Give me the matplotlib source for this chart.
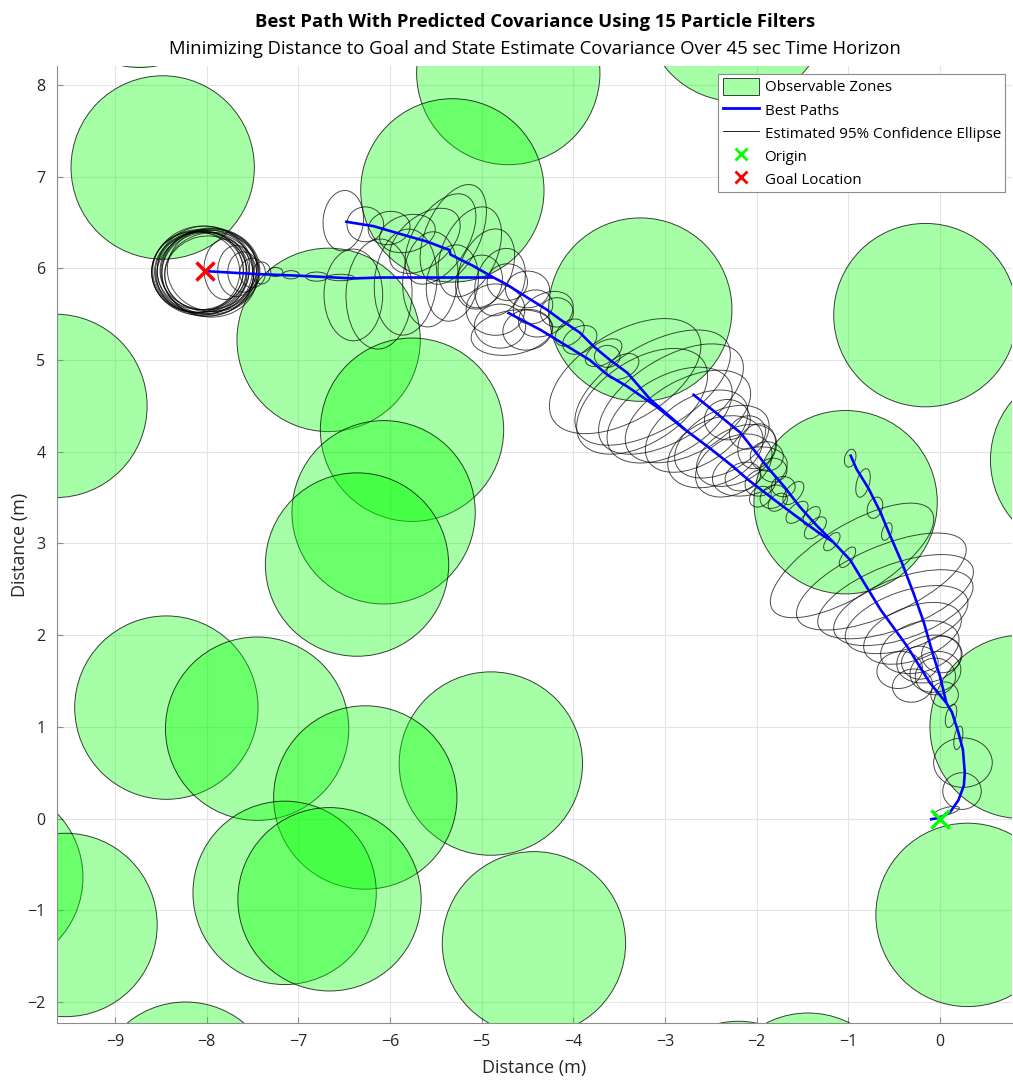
import matplotlib
matplotlib.use("Agg")
import matplotlib.pyplot as plt
from matplotlib.patches import Circle, Ellipse, Patch
from matplotlib.lines import Line2D

plt.rcParams['font.family'] = ['Open Sans', 'DejaVu Sans']

# observable zones: centres (m), all radius 1 m
zone_x = [-8.73, -8.48, -4.71, -5.32, -2.22, -3.27, -0.16, 1.55, -9.65, -6.67,
          -5.76, -6.07, -6.36, -1.03, 0.89, -8.44, -7.45, -4.90, -6.27, -7.15,
          -6.66, -10.35, -9.54, -4.43, 0.30, -8.23, -1.44, -2.20]
zone_y = [9.19, 7.10, 8.13, 6.85, 8.82, 5.55, 5.49, 3.91, 4.50, 5.22,
          4.24, 3.34, 2.77, 3.45, 1.00, 1.21, 0.98, 0.60, 0.23, -0.81,
          -0.88, -0.64, -1.16, -1.36, -1.05, -3.00, -3.12, -3.21]
zone_r = 1.0

origin = (0.0, 0.0)
goal = (-8.02, 5.97)

# best path segments (x, y)
seg_trunk = [(-0.11, -0.01), (0.0, 0.01), (0.11, 0.07), (0.20, 0.20), (0.26, 0.36),
             (0.27, 0.50), (0.25, 0.75), (0.20, 0.94), (0.13, 1.16), (0.07, 1.26)]
seg_a = [(0.07, 1.26), (0.0, 1.55), (-0.08, 1.80), (-0.18, 2.15), (-0.29, 2.46),
         (-0.42, 2.80), (-0.55, 3.10), (-0.65, 3.34), (-0.78, 3.60), (-0.91, 3.81), (-0.98, 3.97)]
seg_b = [(0.07, 1.26), (-0.11, 1.48), (-0.36, 1.88), (-0.65, 2.28), (-0.98, 2.82), (-1.17, 3.02)]
seg_c = [(-1.17, 3.02), (-1.35, 3.20), (-1.53, 3.40), (-1.70, 3.62), (-1.89, 3.84),
         (-2.03, 4.02), (-2.18, 4.21), (-2.45, 4.43), (-2.70, 4.63)]
seg_d = [(-1.17, 3.02), (-1.30, 3.10), (-1.56, 3.29), (-1.80, 3.47), (-2.10, 3.70),
         (-2.26, 3.84), (-2.50, 4.03), (-2.78, 4.24)]
seg_e = [(-2.78, 4.24), (-3.09, 4.49), (-3.41, 4.71), (-3.63, 4.84), (-3.82, 5.00),
         (-4.00, 5.11), (-4.36, 5.33), (-4.72, 5.52)]
seg_f = [(-2.78, 4.24), (-3.16, 4.57), (-3.41, 4.86), (-3.60, 5.00), (-3.78, 5.15),
         (-3.93, 5.30), (-4.14, 5.44), (-4.29, 5.55), (-4.50, 5.68), (-4.72, 5.82), (-4.87, 5.90)]
seg_g = [(-4.87, 5.90), (-5.50, 5.90), (-6.10, 5.90), (-6.40, 5.89), (-7.00, 5.92),
         (-7.50, 5.94), (-8.02, 5.97)]
seg_h = [(-4.87, 5.90), (-5.10, 6.03), (-5.34, 6.15), (-5.35, 6.20), (-5.38, 6.21),
         (-5.59, 6.29), (-5.87, 6.37), (-6.18, 6.46), (-6.49, 6.51)]
path_segments = [seg_trunk, seg_a, seg_b, seg_c, seg_d, seg_e, seg_f, seg_g, seg_h]

# 95% confidence ellipses: (cx, cy, semi-major, semi-minor, angle deg)
ell_goal = [(-8.10, 5.97, 0.50, 0.45, 5), (-8.08, 5.95, 0.52, 0.46, -5),
            (-8.06, 5.99, 0.53, 0.47, 10), (-8.05, 5.96, 0.51, 0.44, 0),
            (-8.03, 5.94, 0.54, 0.46, -8), (-8.02, 5.98, 0.52, 0.48, 3),
            (-8.00, 5.96, 0.55, 0.45, 12), (-7.99, 5.95, 0.50, 0.47, -3),
            (-7.98, 5.99, 0.53, 0.44, 6), (-7.97, 5.93, 0.52, 0.46, -10),
            (-7.96, 5.97, 0.54, 0.47, 2), (-7.95, 5.96, 0.51, 0.43, 8),
            (-8.07, 5.97, 0.47, 0.42, 0), (-8.01, 5.95, 0.45, 0.40, 15),
            (-7.93, 5.98, 0.50, 0.45, -5), (-8.12, 5.96, 0.48, 0.44, 0),
            (-7.80, 5.99, 0.33, 0.23, 90), (-7.68, 5.97, 0.28, 0.20, 90),
            (-7.60, 5.96, 0.22, 0.17, 90), (-7.50, 5.95, 0.16, 0.14, 90),
            (-7.40, 5.95, 0.12, 0.10, 90), (-7.25, 5.96, 0.08, 0.05, 0),
            (-7.08, 5.93, 0.09, 0.045, 0), (-6.80, 5.91, 0.12, 0.05, 0),
            (-6.54, 5.90, 0.15, 0.035, 0)]
ell_upper = [(-6.51, 6.52, 0.33, 0.22, 85), (-6.27, 6.48, 0.20, 0.19, 0),
             (-6.01, 6.44, 0.23, 0.18, 10), (-5.81, 6.38, 0.31, 0.20, 15),
             (-5.62, 6.30, 0.45, 0.27, 40), (-5.45, 6.32, 0.55, 0.30, 58),
             (-5.31, 6.37, 0.58, 0.30, 66), (-5.13, 6.18, 0.52, 0.30, 66),
             (-4.95, 6.00, 0.45, 0.28, 68), (-4.80, 5.85, 0.38, 0.26, 70),
             (-6.40, 5.71, 0.50, 0.32, 90), (-6.12, 5.72, 0.60, 0.36, 88),
             (-5.83, 5.85, 0.58, 0.34, 85), (-5.56, 5.88, 0.52, 0.30, 85),
             (-5.32, 5.84, 0.42, 0.28, 80), (-5.03, 5.85, 0.30, 0.25, 70),
             (-4.72, 5.85, 0.22, 0.20, 0), (-4.50, 5.77, 0.24, 0.20, 0),
             (-4.44, 5.58, 0.22, 0.18, 20), (-4.80, 5.37, 0.28, 0.24, 0),
             (-4.50, 5.33, 0.27, 0.22, 10)]
ell_mid = [(-4.67, 5.30, 0.45, 0.24, 10), (-4.85, 5.55, 0.32, 0.28, 0),
           (-4.30, 5.50, 0.32, 0.22, 30), (-4.18, 5.52, 0.18, 0.16, 0),
           (-3.93, 5.22, 0.20, 0.14, 30), (-4.04, 5.30, 0.18, 0.12, 40),
           (-3.67, 5.08, 0.22, 0.12, 30), (-3.46, 4.93, 0.19, 0.12, 30),
           (-3.63, 5.04, 0.14, 0.12, 0),
           (-3.435, 4.825, 0.92, 0.48, 31), (-3.135, 4.70, 0.95, 0.46, 31),
           (-3.25, 4.55, 0.80, 0.45, 33), (-2.935, 4.575, 0.89, 0.44, 32),
           (-2.95, 4.40, 0.75, 0.42, 30), (-2.75, 4.385, 0.75, 0.40, 29),
           (-2.655, 4.225, 0.62, 0.36, 32), (-2.38, 4.11, 0.56, 0.33, 29),
           (-2.45, 4.00, 0.55, 0.35, 25), (-2.25, 3.85, 0.45, 0.30, 30),
           (-2.22, 3.96, 0.47, 0.29, 28), (-2.075, 3.785, 0.42, 0.25, 17)]
ell_junction = [(-2.32, 4.35, 0.25, 0.22, 0), (-2.10, 4.21, 0.20, 0.18, 20),
                (-2.00, 4.06, 0.25, 0.20, 70), (-1.89, 3.95, 0.18, 0.16, 0),
                (-1.82, 3.80, 0.15, 0.13, 0), (-1.71, 3.62, 0.13, 0.11, 0),
                (-1.82, 3.51, 0.15, 0.12, 30), (-1.96, 3.66, 0.17, 0.14, 20),
                (-2.15, 3.73, 0.20, 0.15, 20), (-1.96, 3.51, 0.13, 0.10, 40),
                (-1.77, 3.45, 0.12, 0.08, 40), (-1.56, 3.34, 0.15, 0.08, 45),
                (-1.36, 3.17, 0.15, 0.08, 45), (-1.18, 3.02, 0.12, 0.06, 50),
                (-1.01, 2.85, 0.13, 0.06, 55), (-1.60, 3.55, 0.15, 0.08, 50),
                (-1.40, 3.30, 0.12, 0.07, 50),
                (-0.98, 3.93, 0.10, 0.06, 75), (-0.84, 3.66, 0.16, 0.07, 75),
                (-0.71, 3.39, 0.12, 0.08, 70), (-0.58, 3.13, 0.10, 0.05, 70)]
ell_lower = [(-0.96, 2.815, 1.02, 0.38, 31.6), (-0.64, 2.585, 1.00, 0.37, 24),
             (-0.485, 2.42, 0.90, 0.35, 21), (-0.40, 2.30, 0.80, 0.33, 20),
             (-0.365, 2.17, 0.70, 0.31, 19), (-0.30, 2.02, 0.56, 0.29, 21),
             (-0.22, 1.87, 0.44, 0.27, 17), (-0.12, 1.74, 0.36, 0.25, 17),
             (-0.44, 1.62, 0.25, 0.20, 10), (-0.30, 1.45, 0.22, 0.18, 10),
             (-0.05, 1.60, 0.28, 0.22, 12),
             (0.07, 0.08, 0.145, 0.04, 15), (0.24, 0.30, 0.21, 0.20, 0),
             (0.25, 0.61, 0.32, 0.27, 0), (0.20, 0.88, 0.13, 0.045, 80),
             (0.12, 1.12, 0.13, 0.055, 75), (0.05, 1.35, 0.15, 0.14, 0),
             (-0.05, 1.55, 0.22, 0.20, 0), (0.02, 1.79, 0.22, 0.20, 0),
             (-0.22, 1.70, 0.20, 0.18, 0)]
ellipse_groups = [ell_goal, ell_upper, ell_mid, ell_junction, ell_lower]

fig = plt.figure(figsize=(10.13, 10.83), dpi=100)
ax = fig.add_axes([0.056, 0.0554, 0.943, 0.8837])

for cx, cy in zip(zone_x, zone_y):
    ax.add_patch(Circle((cx, cy), zone_r, facecolor=(0, 1, 0, 0.35),
                        edgecolor=(0, 0, 0, 0.75), lw=0.7, zorder=1))

for group in ellipse_groups:
    for cx, cy, a, b, ang in group:
        ax.add_patch(Ellipse((cx, cy), 2 * a, 2 * b, angle=ang, fill=False,
                             edgecolor=(0, 0, 0, 0.7), lw=0.7, zorder=2))

for seg in path_segments:
    xs = [p[0] for p in seg]
    ys = [p[1] for p in seg]
    ax.plot(xs, ys, color=(0, 0, 1), lw=1.9, zorder=3, solid_capstyle='butt')

ax.plot(*origin, marker='x', color=(0, 1, 0), ms=13, mew=2.5, ls='none', zorder=4)
ax.plot(*goal, marker='x', color=(1, 0, 0), ms=13, mew=2.5, ls='none', zorder=4)

ax.set_xlim(-9.636, 0.785)
ax.set_ylim(-2.229, 8.207)
ax.set_xticks(range(-9, 1))
ax.set_yticks(range(-2, 9))
ax.grid(True, color='#e4e4e4', lw=0.8)
ax.set_axisbelow(True)
for side in ('top', 'right'):
    ax.spines[side].set_visible(False)
for side in ('left', 'bottom'):
    ax.spines[side].set_color('#8c8c8c')
ax.tick_params(direction='in', length=4, color='#8c8c8c', labelsize=11.5,
               labelcolor='#262626', pad=8)

ax.set_xlabel('Distance (m)', fontsize=13, color='#262626', va='center')
ax.set_ylabel('Distance (m)', fontsize=13, color='#262626', va='center')
ax.xaxis.set_label_coords(0.5, -0.047)
ax.yaxis.set_label_coords(-0.038, 0.5)

fig.text(0.528, 0.9797, 'Best Path With Predicted Covariance Using 15 Particle Filters',
         ha='center', va='center', fontsize=13.3, fontweight='bold', color='k')
fig.text(0.528, 0.9545, 'Minimizing Distance to Goal and State Estimate Covariance Over 45 sec Time Horizon',
         ha='center', va='center', fontsize=13.3, color='k')

handles = [
    Patch(facecolor=(0, 1, 0, 0.35), edgecolor=(0, 0, 0, 0.75), lw=0.7),
    Line2D([], [], color=(0, 0, 1), lw=2),
    Line2D([], [], color='k', lw=0.6),
    Line2D([], [], color=(0, 1, 0), marker='x', ls='none', ms=9, mew=2),
    Line2D([], [], color=(1, 0, 0), marker='x', ls='none', ms=9, mew=2),
]
labels = ['Observable Zones', 'Best Paths', 'Estimated 95% Confidence Ellipse',
          'Origin', 'Goal Location']
leg = ax.legend(handles, labels, loc='upper right', bbox_to_anchor=(0.993, 0.992),
                borderaxespad=0, fontsize=10.9, fancybox=False, framealpha=1,
                edgecolor='#8c8c8c', handlelength=2.4, handleheight=1.3,
                handletextpad=0.35, labelspacing=0.38, borderpad=0.3)
leg.get_frame().set_linewidth(0.8)

fig.savefig('out.png', dpi=100)
